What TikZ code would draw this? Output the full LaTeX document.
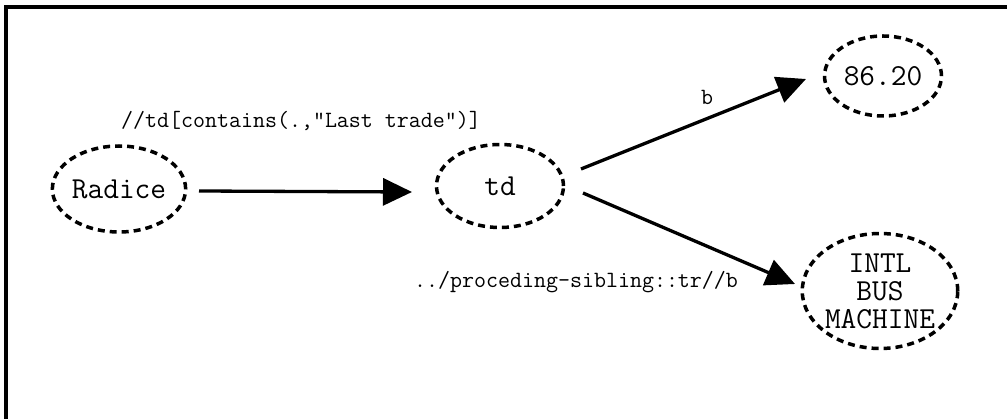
\documentclass[tikz,border=0pt]{standalone}
\usetikzlibrary{arrows.meta,shapes.geometric}
\tikzset{
  state/.style={draw, ellipse, line width=3.5pt, dash pattern=on 7pt off 5pt,
    inner sep=0pt, align=center, font=\ttfamily\fontsize{30.5}{28}\selectfont},
  link/.style={line width=3.3pt, -{Triangle[length=29pt,width=27pt]}},
  edgelabel/.style={inner sep=0pt, font=\ttfamily\fontsize{23.3}{26}\selectfont},
  frameline/.style={line width=4pt}
}
\begin{document}
\begin{tikzpicture}[x=1pt, y=-1pt]
  \useasboundingbox (0,0) rectangle (1007,419);
  % partial frame: top and left edges
  \coordinate (fr1) at (1007,7);
  \coordinate (fr2) at (6,7);
  \coordinate (fr3) at (6,419);
  \draw[frameline] (fr1) -- (fr2) -- (fr3);

  % states
  \node[state, minimum width=130pt, minimum height=86pt] (radice) at (119,189) {Radice};
  \node[state, minimum width=127pt, minimum height=83pt] (td) at (500,186) {td};
  \node[state, minimum width=117pt, minimum height=80pt] (val) at (883,76) {86.20};
  \node[state, minimum width=150pt, minimum height=115pt] (name) at (880,291) {INTL\\BUS\\MACHINE};

  % transitions
  \draw[link] ([shift={(80,2)}]radice.center) -- ([shift={(-88,6)}]td.center);
  \draw[link] ([shift={(81,-17)}]td.center) -- ([shift={(-77,3)}]val.center);
  \draw[link] ([shift={(83,7)}]td.center) -- ([shift={(-85,-7)}]name.center);

  % transition labels
  \node[edgelabel] (l1) at (301,121) {//td[contains(.,"Last trade")]};
  \node[edgelabel] (l2) at (707,97) {b};
  \node[edgelabel] (l3) at (576,282) {../proceding-sibling::tr//b};
\end{tikzpicture}
\end{document}
